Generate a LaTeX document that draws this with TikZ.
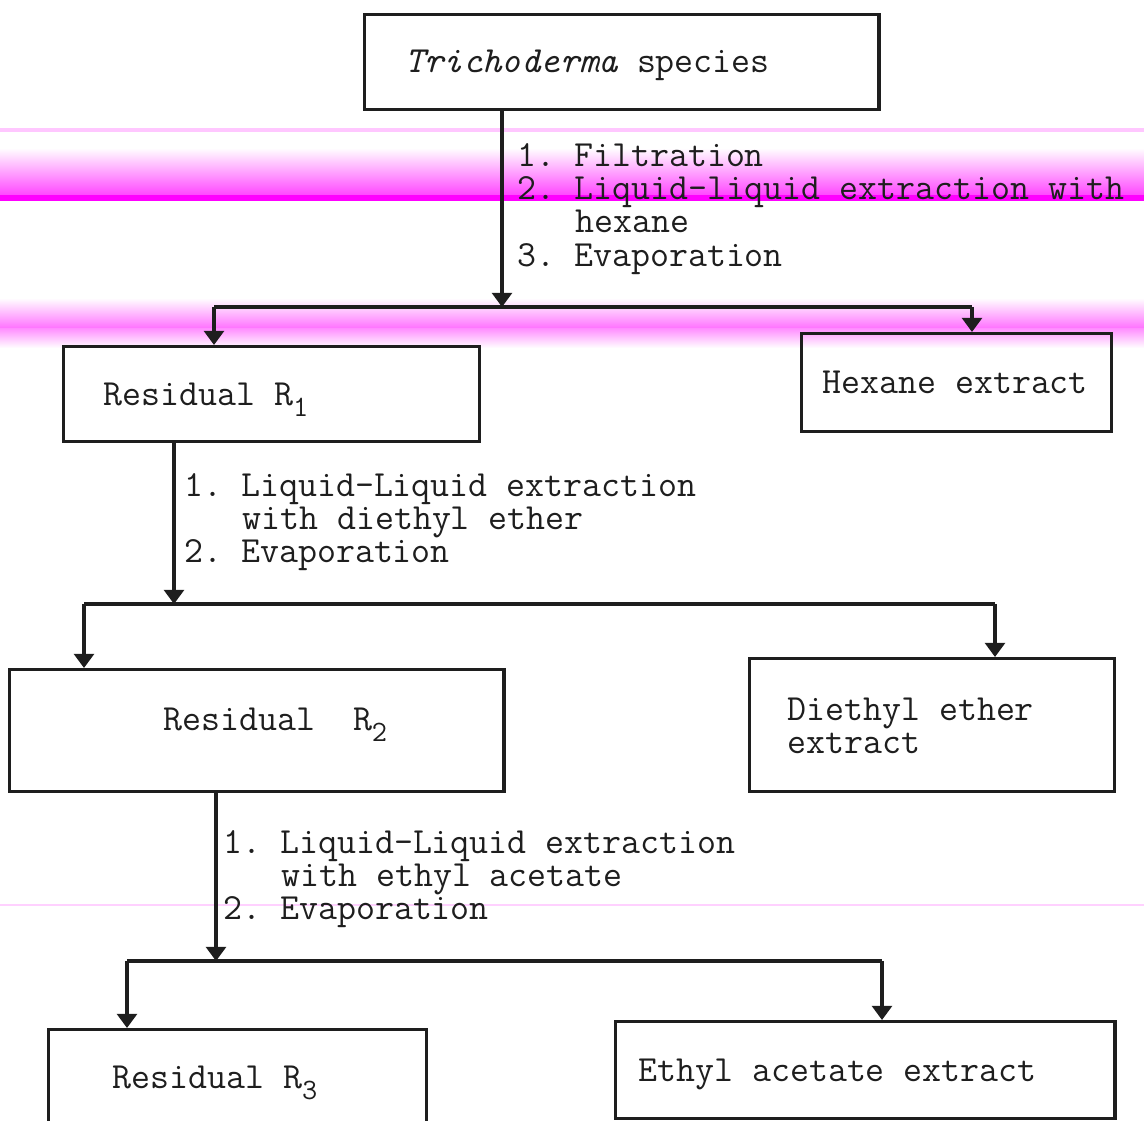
\documentclass[tikz,border=0pt]{standalone}
\usepackage{fontspec}
\usetikzlibrary{arrows.meta}
\definecolor{mag}{RGB}{255,0,255}
\definecolor{ink}{RGB}{30,30,30}
\newcommand{\mysub}[1]{\raisebox{-0.32em}{\fontsize{21pt}{21pt}\selectfont #1}}
\begin{document}
\begin{tikzpicture}[x=0.025cm,y=-0.025cm,
  box/.style={draw=ink, line width=2.4pt, anchor=north west, inner sep=0pt},
  txt/.style={inner sep=0pt, text=ink, font=\ttfamily\fontsize{26.2pt}{0.83cm}\selectfont\frenchspacing},
  conn/.style={draw=ink, line width=2.4pt},
  arr/.style={conn, -{Triangle[width=14pt,length=10pt]}},
  band/.style={draw=none}]
\useasboundingbox (0,0) rectangle (1144,1120);
\begin{scope}
\clip (0,0) rectangle (1144,1120);
% scanner colour bands
\fill[mag!22] (0,128) rectangle (1144,132);
\shade[band, top color=white, bottom color=mag!75] (0,148) rectangle (1144,197);
\fill[mag] (0,195) rectangle (1144,201);
\shade[band, top color=white, bottom color=mag!55] (0,298) rectangle (1144,328);
\shade[band, top color=mag!45, bottom color=white] (0,328) rectangle (1144,348);
\fill[mag!18] (0,904) rectangle (1144,906);

% boxes
\node[box, minimum width=12.85cm, minimum height=2.375cm] (t) at (363,13) {};
\node[box, minimum width=10.4cm, minimum height=2.375cm] (r1) at (62,345) {};
\node[box, minimum width=7.75cm, minimum height=2.45cm] (hex) at (800,332) {};
\node[box, minimum width=12.35cm, minimum height=3.05cm] (r2) at (8,668) {};
\node[box, minimum width=9.125cm, minimum height=3.325cm] (de) at (748,657) {};
\node[box, minimum width=9.45cm, minimum height=2.75cm] (r3) at (47,1028) {};
\node[box, minimum width=12.475cm, minimum height=2.425cm] (ea) at (614,1020) {};

% box texts
\node[txt, anchor=base west] (tt) at (405,72) {{\itshape Trichoderma} species};
\node[txt, anchor=base west] (r1t) at (103,405) {Residual R\mysub{1}};
\node[txt, anchor=base west] (hext) at (822,393) {Hexane extract};
\node[txt, anchor=base west] (r2t) at (163,730) {Residual\ \ R\mysub{2}};
\node[txt, anchor=west, align=left] (det) at (787,726) {Diethyl ether\\extract};
\node[txt, anchor=base west] (r3t) at (112,1088) {Residual R\mysub{3}};
\node[txt, anchor=base west] (eat) at (638,1081) {Ethyl acetate extract};

% step labels
\node[txt, anchor=west, align=left] (s1) at (517,209) {1. Filtration\\2. Liquid-liquid extraction with\\\hspace*{1.575em}hexane\\3. Evaporation};
\node[txt, anchor=west, align=left] (s2) at (184,522) {1. Liquid-Liquid extraction\\\hspace*{1.575em}with diethyl ether\\2. Evaporation};
\node[txt, anchor=west, align=left] (s3) at (223,879) {1. Liquid-Liquid extraction\\\hspace*{1.575em}with ethyl acetate\\2. Evaporation};

% junction coordinates
\coordinate (j1) at (502,307);
\coordinate (b1l) at (214,307);
\coordinate (b1r) at (972,307);
\coordinate (j2) at (174,604);
\coordinate (b2l) at (84,604);
\coordinate (b2r) at (995,604);
\coordinate (j3) at (216,961);
\coordinate (b3l) at (127,961);
\coordinate (b3r) at (882,961);

% connectors
\draw[arr] (t.south -| j1) -- (j1);
\draw[conn] (b1l) -- (b1r);
\draw[arr] (b1l) -- (b1l |- r1.north);
\draw[arr] (b1r) -- (b1r |- hex.north);

\draw[arr] (r1.south -| j2) -- (j2);
\draw[conn] (b2l) -- (b2r);
\draw[arr] (b2l) -- (b2l |- r2.north);
\draw[arr] (b2r) -- (b2r |- de.north);

\draw[arr] (r2.south -| j3) -- (j3);
\draw[conn] (b3l) -- (b3r);
\draw[arr] (b3l) -- (b3l |- r3.north);
\draw[arr] (b3r) -- (b3r |- ea.north);
\end{scope}
\end{tikzpicture}
\end{document}
